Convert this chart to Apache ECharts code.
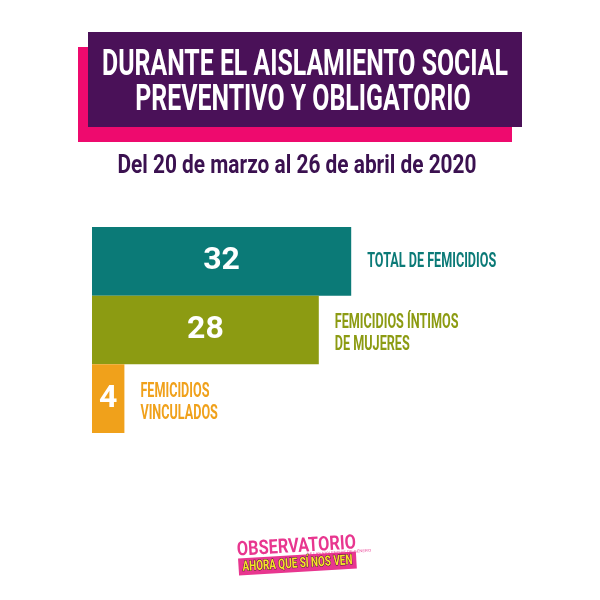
<!DOCTYPE html>
<html><head><meta charset="utf-8">
<script src="https://cdn.jsdelivr.net/npm/echarts@6/dist/echarts.min.js"></script>
<style>html,body{margin:0;padding:0;background:#fff}#c{width:600px;height:600px}</style>
</head><body><div id="c"></div>
<script>
const categories = ['TOTAL DE FEMICIDIOS', 'FEMICIDIOS ÍNTIMOS\nDE MUJERES', 'FEMICIDIOS\nVINCULADOS'];
const values = [32, 28, 4];
const titleLines = ['DURANTE EL AISLAMIENTO SOCIAL', 'PREVENTIVO Y OBLIGATORIO'];
const subtitleText = 'Del 20 de marzo al 26 de abril de 2020';
const logoTop = 'OBSERVATORIO';
const logoSmall = 'DE LAS VIOLENCIAS DE GÉNERO';
const logoBottom = 'AHORA QUE SÍ NOS VEN';

const barColors = ['#0B7A77', '#8C9B12', '#F0A11B'];
const FONT = 'Roboto';

function textW(t, size) {
  const c = document.createElement('canvas').getContext('2d');
  c.font = 'bold ' + size + 'px ' + FONT; return c.measureText(t).width;
}
function fitScale(t, size, target) { return target / textW(t, size); }
const sTitle = fitScale(titleLines[0], 36, 406);
const sSub = fitScale(subtitleText, 25, 359);
const sCat = fitScale(categories[0], 21, 129);
const sLogo1 = fitScale(logoTop, 20, 119);
const sLogo2 = fitScale(logoBottom, 14, 110);

function tx(text, x, y, size, fill, scale, more) {
  return {
    type: 'text', x: x, y: y, scaleX: scale, z: 10,
    style: Object.assign({ text: text, fontSize: size, fontWeight: 'bold', fontFamily: FONT,
      fill: fill, textAlign: 'center', textVerticalAlign: 'middle' }, more || {})
  };
}

const chart = echarts.init(document.getElementById('c'), null, { renderer: 'canvas' });
chart.setOption({
  backgroundColor: '#ffffff',
  animation: false,
  grid: { left: 92, top: 227, height: 206, right: 184 },
  xAxis: { type: 'value', min: 0, max: 40, show: false },
  yAxis: { type: 'category', data: categories, inverse: true, show: false },
  graphic: [
    { type: 'rect', shape: { x: 78, y: 47, width: 434, height: 95 }, style: { fill: '#EE0A6E' } },
    { type: 'rect', shape: { x: 88, y: 32, width: 434, height: 95 }, style: { fill: '#4A1158' } },
    tx(titleLines[0], 305, 66, 36, '#ffffff', sTitle),
    tx(titleLines[1], 303, 101, 36, '#ffffff', sTitle),
    tx(subtitleText, 297, 167, 25, '#3B1150', sSub),
    {
      type: 'group', x: 297, y: 556, rotation: 0.06,
      children: [
        { type: 'rect', shape: { x: -59, y: -1, width: 118, height: 17 }, style: { fill: '#E8368F' } },
        tx(logoTop, 0, -9, 20, '#E8368F', sLogo1),
        { type: 'text', x: 42, y: -1, style: { text: logoSmall, fontSize: 4, fill: '#E8368F', textAlign: 'center', textVerticalAlign: 'middle' } },
        tx(logoBottom, 0, 8, 14, '#F7E52A', sLogo2, { stroke: '#3a1530', lineWidth: 1 })
      ]
    }
  ],
  series: [
    {
      type: 'bar', barCategoryGap: '0%',
      data: values.map((v, i) => ({ value: v, itemStyle: { color: barColors[i] } })),
      label: { show: true, position: 'inside', color: '#ffffff', fontSize: 32, fontWeight: 'bold',
        fontFamily: FONT }
    },
    {
      type: 'custom', coordinateSystem: 'cartesian2d', silent: true,
      encode: { x: 0, y: 1 },
      data: values.map((v, i) => [v, i]),
      renderItem: function (params, api) {
        const i = params.dataIndex;
        const pt = api.coord([api.value(0), api.value(1)]);
        const multi = categories[i].indexOf('\n') >= 0;
        return {
          type: 'text', x: pt[0] + 16, y: pt[1] + (multi ? 4 : 0), scaleX: sCat,
          style: { text: categories[i], fontSize: 21, fontWeight: 'bold', fontFamily: FONT,
            fill: barColors[i], textAlign: 'left', textVerticalAlign: 'middle', lineHeight: 22 }
        };
      }
    }
  ]
});
</script>
</body></html>
